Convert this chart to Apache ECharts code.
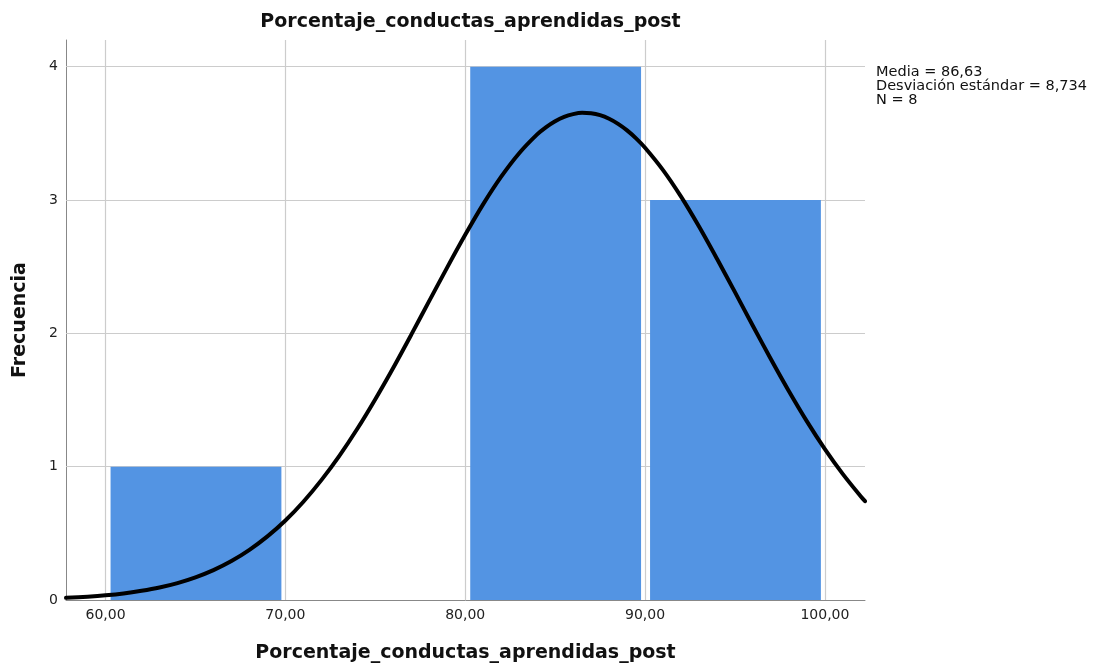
<!DOCTYPE html>
<html>
<head>
<meta charset="utf-8">
<script src="https://cdn.jsdelivr.net/npm/echarts@6/dist/echarts.min.js"></script>
<style>
html,body{margin:0;padding:0;background:#fff;}
#chart{width:1094px;height:669px;}
</style>
</head>
<body>
<div id="chart"></div>
<script>
// Histogram bins: [start, end]
var binStarts = [60, 80, 90];
var binEnds = [70, 90, 100];
var binCounts = [1, 4, 3];
// Normal curve points
var curveX = [57.8, 59, 60, 61, 62, 63, 64, 65, 66, 67, 68, 69, 70, 71, 72, 73, 74, 75, 76, 77, 78, 79, 80, 81, 82, 83, 84, 84.5, 85, 85.5, 86, 86.5, 87, 87.5, 88, 88.5, 89, 89.5, 90, 91, 92, 93, 94, 95, 96, 97, 98, 99, 100, 101, 102, 102.23];
var curveY = [0.016, 0.025, 0.035, 0.049, 0.069, 0.094, 0.127, 0.170, 0.224, 0.292, 0.376, 0.477, 0.596, 0.737, 0.899, 1.081, 1.284, 1.506, 1.742, 1.990, 2.243, 2.495, 2.739, 2.969, 3.175, 3.351, 3.492, 3.547, 3.591, 3.624, 3.644, 3.654, 3.651, 3.636, 3.609, 3.571, 3.522, 3.462, 3.392, 3.224, 3.025, 2.801, 2.559, 2.309, 2.055, 1.806, 1.566, 1.340, 1.132, 0.944, 0.776, 0.741];
var xTicks = [60, 70, 80, 90, 100];
var xTickLabels = ['60,00', '70,00', '80,00', '90,00', '100,00'];
var yTicks = [0, 1, 2, 3, 4];
var statsLines = ['Media = 86,63', 'Desviación estándar = 8,734', 'N = 8'];
var titleText = 'Porcentaje_conductas_aprendidas_post';
var xName = 'Porcentaje_conductas_aprendidas_post';
var yName = 'Frecuencia';

var FONT = 'DejaVu Sans';
var chart = echarts.init(document.getElementById('chart'), null, {renderer: 'canvas'});

var bars = binStarts.map(function (s, i) { return [s, binEnds[i], binCounts[i]]; });
var curve = curveX.map(function (x, i) { return [x, curveY[i]]; });

var gridStyle = {color: '#cccccc', width: 1.2, type: 'solid'};

var option = {
  animation: false,
  backgroundColor: '#ffffff',
  title: {
    text: titleText,
    left: 465.5,
    top: 8,
    textAlign: 'center',
    textStyle: {fontFamily: FONT, fontWeight: 'bold', fontSize: 19, color: '#111'}
  },
  grid: {left: 66, right: 229, top: 40, bottom: 69, containLabel: false},
  xAxis: {
    type: 'value',
    min: 57.8,
    max: 102.23,
    name: xName,
    nameLocation: 'middle',
    nameGap: 44,
    nameTextStyle: {fontFamily: FONT, fontWeight: 'bold', fontSize: 19, color: '#111'},
    axisLine: {show: true, lineStyle: {color: '#888', width: 1}},
    axisTick: {show: false, customValues: xTicks},
    splitLine: {show: false},
    axisLabel: {
      customValues: xTicks,
      fontFamily: FONT, fontSize: 14, color: '#222', margin: 8,
      formatter: function (v) { var i = xTicks.indexOf(v); return i >= 0 ? xTickLabels[i] : ''; }
    }
  },
  yAxis: {
    type: 'value',
    min: 0,
    max: 4.2,
    name: yName,
    nameLocation: 'middle',
    nameGap: 36,
    nameRotate: 90,
    nameTextStyle: {fontFamily: FONT, fontWeight: 'bold', fontSize: 19, color: '#111'},
    axisLine: {show: true, lineStyle: {color: '#888', width: 1}},
    axisTick: {show: false, customValues: yTicks},
    splitLine: {show: false},
    axisLabel: {
      customValues: yTicks,
      fontFamily: FONT, fontSize: 14, color: '#222', margin: 8,
      formatter: function (v) { return String(v); }
    }
  },
  graphic: [{
    type: 'text',
    left: 876,
    top: 65,
    style: {
      text: statsLines.join('\n'),
      font: '14.5px "DejaVu Sans"',
      fill: '#111',
      lineHeight: 14
    }
  }],
  series: [
    {
      type: 'line',
      data: [],
      silent: true,
      z: 1,
      markLine: {
        silent: true,
        z: 1,
        symbol: 'none',
        label: {show: false},
        lineStyle: gridStyle,
        animation: false,
        data: xTicks.map(function (v) { return {xAxis: v}; })
          .concat(yTicks.filter(function (v) { return v > 0; }).map(function (v) { return {yAxis: v}; }))
      }
    },
    {
      type: 'custom',
      z: 3,
      data: bars,
      renderItem: function (params, api) {
        var p0 = api.coord([api.value(0), 0]);
        var p1 = api.coord([api.value(1), api.value(2)]);
        return {
          type: 'rect',
          shape: {x: p0[0] + 5, y: p1[1], width: p1[0] - p0[0] - 9, height: p0[1] - p1[1]},
          style: {fill: '#5394e3'}
        };
      },
      encode: {x: [0, 1], y: 2}
    },
    {
      type: 'line',
      z: 4,
      data: curve,
      smooth: 0.3,
      showSymbol: false,
      symbol: 'none',
      clip: true,
      lineStyle: {color: '#000', width: 4, join: 'round', cap: 'round'}
    }
  ]
};
chart.setOption(option);
</script>
</body>
</html>
